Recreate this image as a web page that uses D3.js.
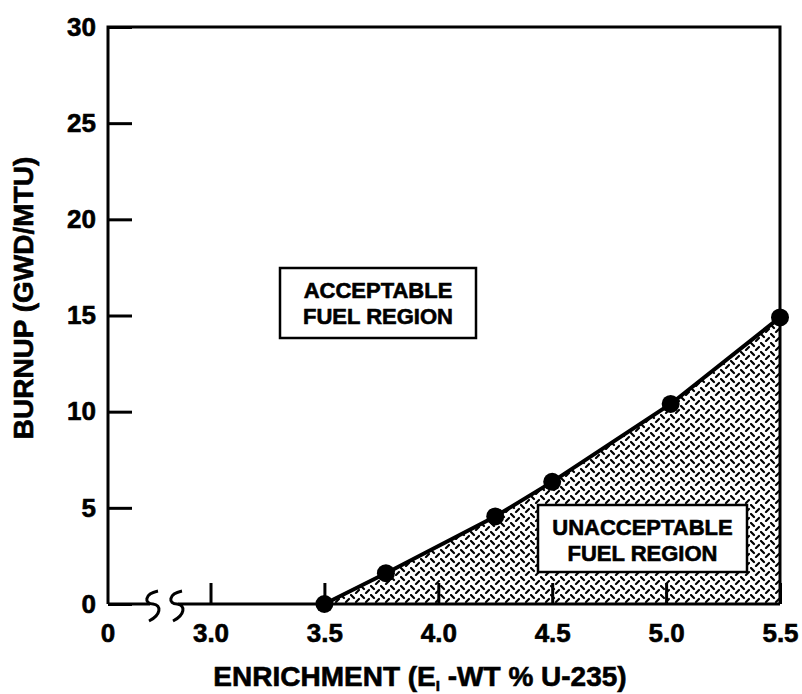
<!DOCTYPE html>
<html>
<head>
<meta charset="utf-8">
<script src="https://cdn.jsdelivr.net/npm/d3@7"></script>
<style>
  body { margin: 0; background: #fff; }
  text { font-family: "Liberation Sans", Arial, sans-serif; font-weight: bold; fill: #000; stroke: #000; stroke-width: 0.6px; }
</style>
</head>
<body>
<script>
// data
var enrichment = [3.5, 3.77, 4.25, 4.5, 5.02, 5.5];
var burnup = [0, 1.6, 4.55, 6.35, 10.4, 14.9];
var xTicks = [3.0, 3.5, 4.0, 4.5, 5.0, 5.5];
var yTicks = [0, 5, 10, 15, 20, 25, 30];

var width = 802, height = 694;

var svg = d3.select("body").append("svg")
    .attr("width", width)
    .attr("height", height);

// x starts at a broken axis, so the left edge is labelled "0"
var x = d3.scaleLinear().domain([2.55, 5.5]).range([108, 780]);
var y = d3.scaleLinear().domain([0, 30]).range([604, 27]);

var pts = enrichment.map(function(e, i) { return [e, burnup[i]]; });

// hatch pattern for the unacceptable region
var pat = svg.append("defs").append("pattern")
    .attr("id", "hatch")
    .attr("patternUnits", "userSpaceOnUse")
    .attr("width", 10).attr("height", 9);
pat.append("line").attr("x1", 1).attr("y1", 1).attr("x2", 4).attr("y2", 4)
    .attr("stroke", "#000").attr("stroke-width", 2.2).attr("stroke-linecap", "round");
pat.append("line").attr("x1", 9).attr("y1", 5).attr("x2", 6).attr("y2", 8)
    .attr("stroke", "#000").attr("stroke-width", 2.2).attr("stroke-linecap", "round");

var area = d3.area()
    .x(function(d) { return x(d[0]); })
    .y0(y(0))
    .y1(function(d) { return y(d[1]); });

svg.append("path")
    .datum(pts)
    .attr("d", area)
    .attr("fill", "url(#hatch)");

// label boxes
function labelBox(x0, y0, w, h, lines) {
  svg.append("rect").attr("x", x0).attr("y", y0).attr("width", w).attr("height", h)
      .attr("fill", "#fff").attr("stroke", "#000").attr("stroke-width", 2.5);
  lines.forEach(function(t, i) {
    svg.append("text").attr("x", x0 + w / 2).attr("y", y0 + 30 + i * 26)
        .attr("text-anchor", "middle").style("font-size", "22px").text(t);
  });
}
labelBox(280, 268, 196, 70, ["ACCEPTABLE", "FUEL REGION"]);
labelBox(538, 505, 209, 67, ["UNACCEPTABLE", "FUEL REGION"]);

// axes
var yAxis = svg.append("g")
    .attr("transform", "translate(108,0)")
    .call(d3.axisLeft(y).tickValues(yTicks).tickSize(-24).tickPadding(12).tickFormat(d3.format("d")));
yAxis.select(".domain").remove();
yAxis.selectAll("line").attr("stroke-width", 3);
yAxis.selectAll("text").style("font-size", "26px").attr("font-family", null);

var xAxis = svg.append("g")
    .attr("transform", "translate(0,604)")
    .call(d3.axisBottom(x).tickValues(xTicks).tickSize(-21).tickPadding(0).tickFormat(d3.format(".1f")));
xAxis.select(".domain").remove();
xAxis.selectAll("line").attr("stroke-width", 3);
xAxis.selectAll("text").attr("dy", null).attr("y", 38).style("font-size", "26px").attr("font-family", null);

svg.append("text").attr("x", x.range()[0]).attr("y", 642)
    .attr("text-anchor", "middle").style("font-size", "26px").text("0");

// frame: left, top, right
svg.append("path")
    .attr("d", "M108,604 V27 H780 V604")
    .attr("fill", "none").attr("stroke", "#000").attr("stroke-width", 3);

// baseline with axis break
svg.append("path")
    .attr("d", "M108,604 H150 M178,604 H780")
    .attr("fill", "none").attr("stroke", "#000").attr("stroke-width", 3);
[153, 177].forEach(function(cx) {
  svg.append("path")
      .attr("d", "M" + (cx + 5) + ",591 C" + (cx - 9) + ",594 " + (cx - 9) + ",604 " + cx + ",604" +
                 " C" + (cx + 9) + ",605 " + (cx + 8) + ",615 " + (cx - 4) + ",621")
      .attr("fill", "none").attr("stroke", "#000").attr("stroke-width", 3);
});

// curve and points
svg.append("path")
    .datum(pts)
    .attr("d", d3.line().x(function(d) { return x(d[0]); }).y(function(d) { return y(d[1]); }))
    .attr("fill", "none").attr("stroke", "#000").attr("stroke-width", 4);

svg.selectAll("circle").data(pts).enter().append("circle")
    .attr("cx", function(d) { return x(d[0]); })
    .attr("cy", function(d) { return y(d[1]); })
    .attr("r", 9).attr("fill", "#000");

// axis titles
var xt = svg.append("text").attr("x", 420).attr("y", 686)
    .attr("text-anchor", "middle").style("font-size", "28px");
xt.append("tspan").text("ENRICHMENT (E");
xt.append("tspan").attr("dy", 5).style("font-size", "15px").text("I");
xt.append("tspan").attr("dy", -5).text(" -WT % U-235)");

svg.append("text")
    .attr("transform", "translate(33,298) rotate(-90)")
    .attr("text-anchor", "middle").style("font-size", "28px")
    .text("BURNUP (GWD/MTU)");
</script>
</body>
</html>
